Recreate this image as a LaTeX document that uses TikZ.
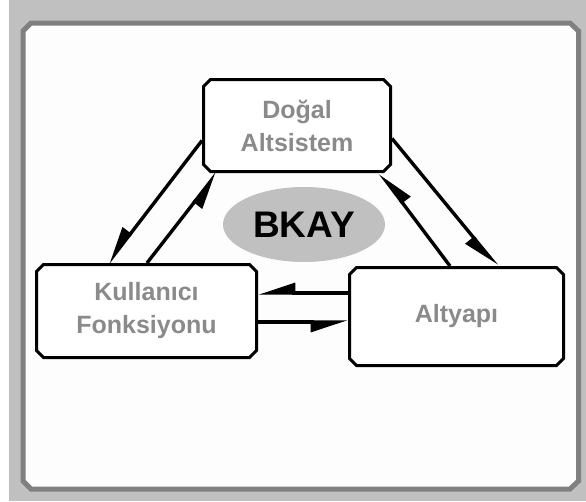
\documentclass[tikz,border=0pt]{standalone}
\usepackage{fontspec}
\setmainfont{Liberation Sans}
\usetikzlibrary{shapes.misc,shapes.geometric,arrows.meta,calc}
\definecolor{bgc}{HTML}{C0C0C0}
\definecolor{framec}{HTML}{808080}
\definecolor{panelc}{HTML}{FDFDFD}
\definecolor{txtc}{HTML}{8A8A8A}
\begin{document}
\begin{tikzpicture}[x=1pt,y=-1pt,
  box/.style={chamfered rectangle, chamfered rectangle xsep=3.5pt, chamfered rectangle ysep=3.5pt,
    draw=black, line width=3pt, fill=white, inner sep=0pt, text=txtc,
    font=\fontsize{25}{33}\selectfont\bfseries, align=center},
  link/.style={line width=3.4pt, -{Triangle[right,length=32pt,width=20pt]}},
  hub/.style={ellipse, fill=bgc, draw=none, inner sep=0pt, minimum width=162pt, minimum height=75pt,
    font=\fontsize{37}{40}\selectfont\bfseries, text=black}
]
\useasboundingbox (0,0) rectangle (586,501);
\fill[white] (0,0) rectangle (586,501);
\fill[bgc] (9,0) rectangle (586,501);
\draw[framec, line width=5pt, fill=panelc]
  (31,23) -- (570,23) -- (578.5,31) -- (578.5,481) -- (570,489) -- (31,489) -- (23,481) -- (23,31) -- cycle;

\node[box, minimum width=187pt, minimum height=92pt] (dog) at (297,125.5) {Doğal\\Altsistem};
\node[box, minimum width=220pt, minimum height=93pt] (kul) at (146.5,311) {Kullanıcı\\Fonksiyonu};
\node[box, minimum width=214pt, minimum height=98pt] (alt) at (456.5,316.5) {Altyapı};
\node[hub] (bkay) at (304,224.5) {BKAY};

\draw[link] ($(dog.west)+(0,15)$) -- ($(kul.north)+(-38.5,0)$);
\draw[link] ($(kul.north)+(0.5,0)$) -- ($(dog.south)+(-80,0)$);
\draw[link] ($(dog.east)+(0,13)$) -- ($(alt.north)+(40.5,0)$);
\draw[link] ($(alt.north)+(-6.5,0)$) -- ($(dog.south)+(83,0)$);
\draw[link] ($(alt.west)+(0,-23.5)$) -- ($(kul.east)+(0,-18)$);
\draw[link] ($(kul.east)+(0,11)$) -- ($(alt.west)+(0,5.5)$);
\end{tikzpicture}
\end{document}
